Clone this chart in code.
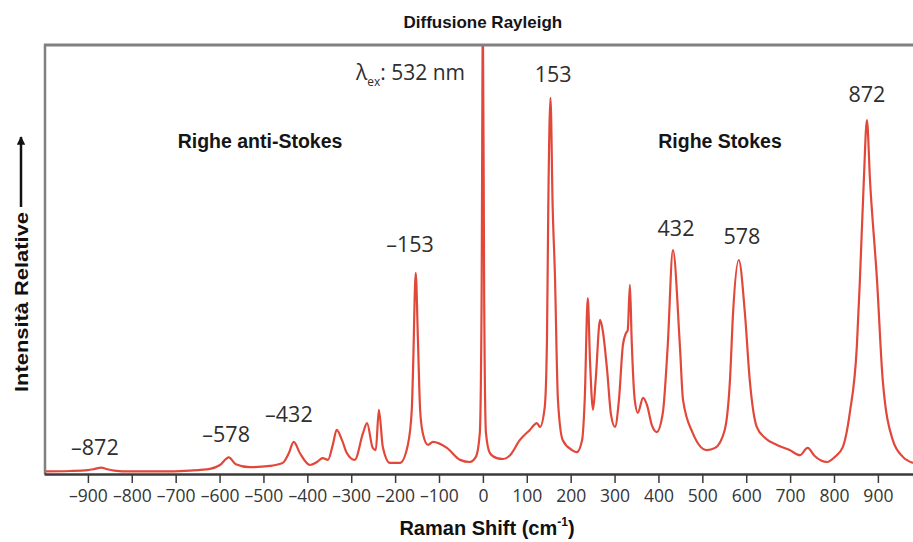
<!DOCTYPE html>
<html>
<head>
<meta charset="utf-8">
<script src="https://cdn.jsdelivr.net/npm/d3@7"></script>
<style>
  body { margin: 0; background: #fff; }
  svg { display: block; }
</style>
</head>
<body>
<div id="chart"></div>
<script>
// spectrum: Raman shift (cm-1) and relative intensity
const shifts = [
  -1000, -941, -900, -884, -870, -856, -840, -804, -736, -668, -622, -599, -579, -563,
  -531, -485, -456, -442, -431, -417, -394, -378, -365, -353, -342, -333, -321, -310,
  -292, -273, -264, -251, -244, -237, -228, -212, -189, -171, -162, -159, -153, -148,
  -143, -137, -125, -114, -82, -52, -30, -16, -7, -3, 0, 3, 7, 16, 32, 46, 62, 84,
  107, 123, 130, 141, 146, 149, 154, 159, 164, 171, 182, 203, 214, 226, 232, 239, 244,
  251, 257, 267, 273, 283, 292, 301, 310, 319, 326, 330, 335, 339, 346, 353, 365, 374,
  385, 396, 410, 421, 433, 449, 456, 478, 510, 529, 551, 563, 570, 583, 597, 608, 624,
  643, 670, 699, 722, 740, 756, 784, 802, 820, 836, 852, 859, 868, 875, 882, 898, 911,
  934, 957, 980
];
const intensities = [
  0.6, 0.7, 0.9, 1.2, 1.5, 1.1, 0.8, 0.6, 0.6, 0.8, 1.2, 2.1, 3.9, 2.3,
  1.6, 1.9, 2.6, 4.9, 7.5, 4.9, 2.1, 2.8, 3.7, 3.3, 6.8, 10.3, 7.9, 4.9,
  3.3, 9.6, 11.9, 6.1, 5.6, 15.0, 6.3, 2.6, 2.6, 6.8, 15.0, 25, 47.0, 31.3,
  15, 9.6, 6.8, 7.5, 6.1, 3.3, 2.8, 4.0, 9.6, 40, 106, 40, 9.6, 4.9, 3.7, 3.5, 4.4, 7.9,
  10.3, 11.9, 11.0, 15.7, 31.3, 62.4, 87.9, 62.4, 47.0, 17.3, 7.9, 5.6, 5.1, 7.9, 17.3, 41.1, 26.6,
  15.0, 22.0, 36.0, 33.6, 24.3, 13.8, 11.0, 17.3, 30.1, 32.9, 33.6, 44.2, 31.3, 17.3, 14.3, 17.8, 16.1,
  11.4, 9.8, 14.3, 29.7, 52.3, 29.7, 17.3, 9.6, 5.6, 6.1, 10.3, 22.0, 37.6, 50.0, 37.6, 22.0, 11.0,
  8.4, 6.8, 5.6, 4.4, 6.1, 4.2, 2.8, 4.0, 6.3, 14.3, 29.7, 45.3, 68.7, 82.7, 68.7, 45.3, 22.0,
  7.9, 4.0, 2.6
];

const xTickValues = [-900, -800, -700, -600, -500, -400, -300, -200, -100, 0, 100, 200, 300, 400, 500, 600, 700, 800, 900];

// peak labels: text, shift where it sits, intensity of its baseline
const peakLabels = ["\u2013872", "\u2013578", "\u2013432", "\u2013153", "153", "432", "578", "872"];
const peakLabelShifts = [-884, -585, -442, -166, 160, 440, 590, 875];
const peakLabelLevels = [4.4, 7.5, 12.1, 51.9, 91.6, 55.6, 53.7, 86.9];

const width = 913;
const height = 542;
const margin = { left: 44, right: 0, top: 46, bottom: 68 };

const red = "#e2483a";

const data = shifts.map((s, i) => ({ shift: s, value: intensities[i] }));

const svg = d3
  .select("#chart")
  .append("svg")
  .attr("width", width)
  .attr("height", height);

const xScale = d3
  .scaleLinear()
  .domain([-1000, 980])
  .range([margin.left, width - margin.right]);

const yScale = d3
  .scaleLinear()
  .domain([0, 100])
  .range([height - margin.bottom, margin.top]);

svg
  .append("defs")
  .append("clipPath")
  .attr("id", "clip")
  .append("rect")
  .attr("x", margin.left)
  .attr("y", margin.top)
  .attr("width", width - margin.left - margin.right)
  .attr("height", height - margin.top - margin.bottom);

// spectrum
const line = d3
  .line()
  .x((d) => xScale(d.shift))
  .y((d) => yScale(d.value))
  .curve(d3.curveMonotoneX);

svg
  .append("path")
  .datum(data)
  .attr("clip-path", "url(#clip)")
  .attr("fill", "none")
  .attr("stroke", red)
  .attr("stroke-width", 2.2)
  .attr("stroke-linejoin", "round")
  .attr("d", line);

// frame: top and left in grey
svg
  .append("line")
  .attr("x1", margin.left)
  .attr("x2", width)
  .attr("y1", margin.top - 1)
  .attr("y2", margin.top - 1)
  .attr("stroke", "#808080")
  .attr("stroke-width", 3);

svg
  .append("line")
  .attr("x1", margin.left + 1)
  .attr("x2", margin.left + 1)
  .attr("y1", margin.top - 2)
  .attr("y2", height - margin.bottom)
  .attr("stroke", "#808080")
  .attr("stroke-width", 2.5);

// bottom axis
const xAxis = d3
  .axisBottom(xScale)
  .tickValues(xTickValues)
  .tickSize(9)
  .tickSizeOuter(0)
  .tickPadding(7)
  .tickFormat((d) => (d < 0 ? "\u2013" + Math.abs(d) : String(d)));

svg
  .append("g")
  .attr("transform", `translate(0, ${height - margin.bottom})`)
  .call(xAxis)
  .call((g) => {
    g.select(".domain").attr("stroke", "#3a3a3a").attr("stroke-width", 2.5);
    g.selectAll(".tick line").attr("stroke", "#3a3a3a").attr("stroke-width", 1.5);
    g.selectAll(".tick text")
      .attr("fill", "#363636")
      .attr("font-family", "'Open Sans', sans-serif")
      .attr("font-size", 17.5);
  });

// axis titles
const xTitle = svg
  .append("text")
  .attr("x", 487)
  .attr("y", 535)
  .attr("text-anchor", "middle")
  .attr("font-family", "'Liberation Sans', Arial, sans-serif")
  .attr("font-weight", "bold")
  .attr("font-size", 20)
  .attr("fill", "#111");
xTitle.append("tspan").text("Raman Shift (cm");
xTitle.append("tspan").attr("font-size", 12).attr("dy", -9).text("-1");
xTitle.append("tspan").attr("dy", 9).text(")");

svg
  .append("text")
  .attr("transform", "translate(28, 392) rotate(-90)")
  .attr("font-family", "'Liberation Sans', Arial, sans-serif")
  .attr("font-weight", "bold")
  .attr("font-size", 19)
  .attr("fill", "#111")
  .attr("textLength", 180)
  .attr("lengthAdjust", "spacingAndGlyphs")
  .text("Intensità Relative");

svg
  .append("defs")
  .append("marker")
  .attr("id", "arrow")
  .attr("viewBox", "0 0 10 10")
  .attr("refX", 9)
  .attr("refY", 5)
  .attr("markerWidth", 3.4)
  .attr("markerHeight", 3.4)
  .attr("orient", "auto")
  .append("path")
  .attr("d", "M0,0 L10,5 L0,10 Z")
  .attr("fill", "#111");

svg
  .append("line")
  .attr("x1", 21)
  .attr("x2", 21)
  .attr("y1", 207)
  .attr("y2", 137)
  .attr("stroke", "#111")
  .attr("stroke-width", 2.5)
  .attr("marker-end", "url(#arrow)");

// annotations
const boldText = (x, y, size, txt) =>
  svg
    .append("text")
    .attr("x", x)
    .attr("y", y)
    .attr("text-anchor", "middle")
    .attr("font-family", "'Liberation Sans', Arial, sans-serif")
    .attr("font-weight", "bold")
    .attr("font-size", size)
    .attr("fill", "#151515")
    .text(txt);

boldText(xScale(0), 28, 17, "Diffusione Rayleigh");
boldText(260, 148, 19.5, "Righe anti-Stokes");
boldText(720, 148, 19.5, "Righe Stokes");

const lambda = svg
  .append("text")
  .attr("x", 465)
  .attr("y", 80)
  .attr("text-anchor", "end")
  .attr("font-family", "'Open Sans', sans-serif")
  .attr("font-size", 21)
  .attr("fill", "#2e2e2e");
lambda.append("tspan").text("\u03bb");
lambda.append("tspan").attr("font-size", 12).attr("dy", 6).text("ex");
lambda.append("tspan").attr("dy", -6).text(": 532 nm");

svg
  .selectAll(".peak-label")
  .data(peakLabels)
  .join("text")
  .attr("class", "peak-label")
  .attr("x", (d, i) => xScale(peakLabelShifts[i]))
  .attr("y", (d, i) => yScale(peakLabelLevels[i]))
  .attr("text-anchor", "middle")
  .attr("font-family", "'Open Sans', sans-serif")
  .attr("font-size", 21.5)
  .attr("fill", "#2e2e2e")
  .text((d) => d);
</script>
</body>
</html>
